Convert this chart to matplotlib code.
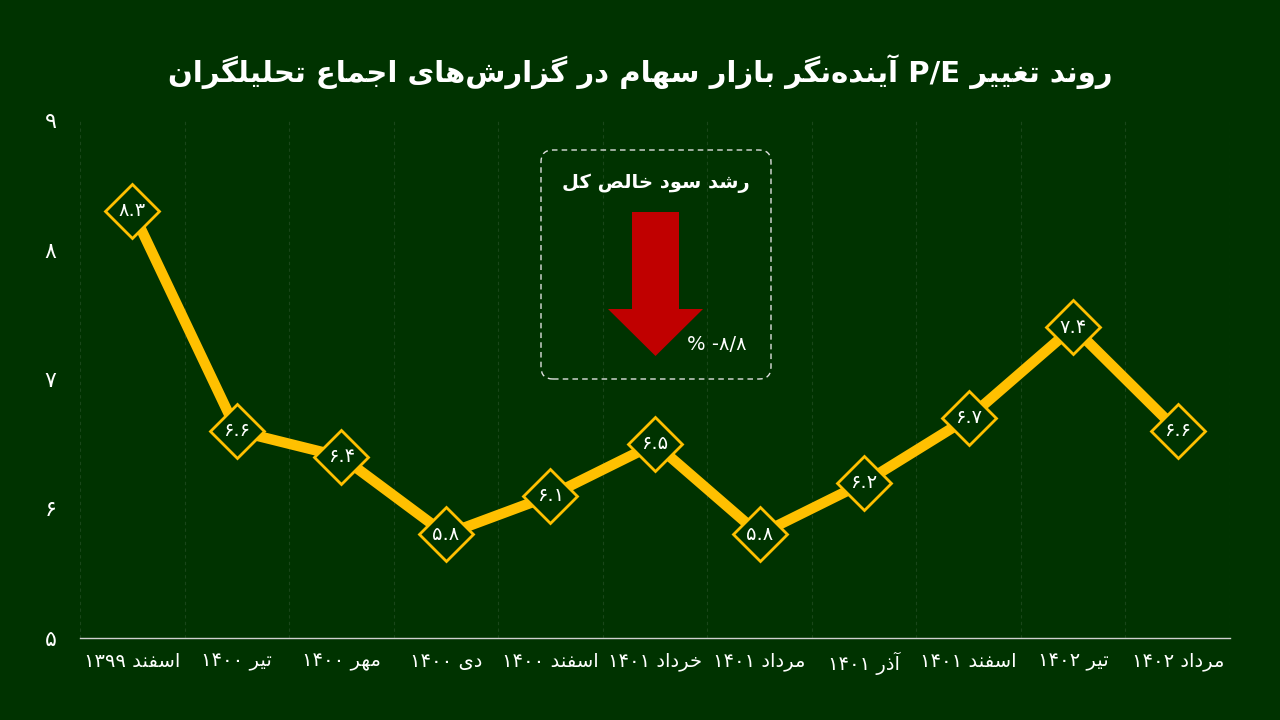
import re
import numpy as np
import matplotlib
matplotlib.use('Agg')
import matplotlib.pyplot as plt
from matplotlib.patches import FancyBboxPatch, Polygon
from matplotlib.transforms import IdentityTransform

# ---------------- data ----------------
categories = ['اسفند ۱۳۹۹', 'تیر ۱۴۰۰', 'مهر ۱۴۰۰', 'دی ۱۴۰۰', 'اسفند ۱۴۰۰',
              'خرداد ۱۴۰۱', 'مرداد ۱۴۰۱', 'آذر ۱۴۰۱', 'اسفند ۱۴۰۱', 'تیر ۱۴۰۲', 'مرداد ۱۴۰۲']
values = [8.3, 6.6, 6.4, 5.8, 6.1, 6.5, 5.8, 6.2, 6.7, 7.4, 6.6]
y_ticks = [5, 6, 7, 8, 9]
title = 'روند تغییر P/E آینده\u200cنگر بازار سهام در گزارش\u200cهای اجماع تحلیلگران'
box_title = 'رشد سود خالص کل'
box_value = '% -۸/۸'   # as displayed

# ---------------- minimal Persian shaping + RTL ordering ----------------
_dual = {'\u0628': 0xFE8F, '\u062A': 0xFE95, '\u062B': 0xFE99, '\u062C': 0xFE9D,
         '\u062D': 0xFEA1, '\u062E': 0xFEA5, '\u0633': 0xFEB1, '\u0634': 0xFEB5,
         '\u0635': 0xFEB9, '\u0636': 0xFEBD, '\u0637': 0xFEC1, '\u0638': 0xFEC5,
         '\u0639': 0xFEC9, '\u063A': 0xFECD, '\u0641': 0xFED1, '\u0642': 0xFED5,
         '\u0644': 0xFEDD, '\u0645': 0xFEE1, '\u0646': 0xFEE5, '\u0647': 0xFEE9,
         '\u067E': 0xFB56, '\u0686': 0xFB7A, '\u06A9': 0xFB8E, '\u06AF': 0xFB92,
         '\u06CC': 0xFBFC}
_right = {'\u0622': 0xFE81, '\u0627': 0xFE8D, '\u062F': 0xFEA9, '\u0630': 0xFEAB,
          '\u0631': 0xFEAD, '\u0632': 0xFEAF, '\u0698': 0xFB8A, '\u0648': 0xFEED}


def _is_letter(c):
    return c in _dual or c in _right


def shape(text):
    chars = list(text)
    out = []
    i = 0
    n = len(chars)
    while i < n:
        c = chars[i]
        if not _is_letter(c):
            if c != '\u200c':
                out.append(c)
            i += 1
            continue
        prev = chars[i - 1] if i > 0 else ''
        joins_prev = prev in _dual
        nxt = chars[i + 1] if i + 1 < n else ''
        if c == '\u0644' and nxt in ('\u0627', '\u0622'):
            base = 0xFEFB if nxt == '\u0627' else 0xFEF5
            out.append(chr(base + (1 if joins_prev else 0)))
            i += 2
            continue
        if c in _dual:
            b = _dual[c]
            joins_next = _is_letter(nxt)
            if joins_prev and joins_next:
                f = b + 3
            elif joins_prev:
                f = b + 1
            elif joins_next:
                f = b + 2
            else:
                f = b
        else:
            b = _right[c]
            f = b + 1 if joins_prev else b
        out.append(chr(f))
        i += 1
    return ''.join(out)


def visual(text):
    s = shape(text)
    tokens = re.findall(r'[A-Za-z0-9\u06F0-\u06F9./]+|.', s)
    return ''.join(reversed(tokens))


_fa = str.maketrans('0123456789', '۰۱۲۳۴۵۶۷۸۹')


def fa_num(v, fmt='{:.1f}'):
    return fmt.format(v).translate(_fa)


# ---------------- style ----------------
BG = '#003300'
YEL = '#FFC000'
plt.rcParams['font.family'] = ['DejaVu Sans']

fig = plt.figure(figsize=(12.8, 7.2), dpi=100, facecolor=BG)
ax = fig.add_axes([80 / 1280, 1 - 638 / 720, 1150 / 1280, 518 / 720])
ax.set_facecolor(BG)

x = np.arange(len(categories))
ax.plot(x, values, color=YEL, lw=7.5, zorder=3, solid_capstyle='butt')
ax.plot(x, values, ls='none', marker='D', ms=27, mfc=BG, mec=YEL, mew=2, zorder=4)
for xi, v in zip(x, values):
    ax.text(xi, v, fa_num(v), ha='center', va='center', color='white',
            fontsize=14, zorder=5)

for b in np.arange(-0.5, len(categories) + 0.5, 1.0):
    ax.axvline(b, color='#1a461a', lw=0.8, ls=(0, (3, 3)), zorder=1)

ax.set_xlim(-0.5, len(categories) - 0.5)
ax.set_ylim(min(y_ticks), max(y_ticks))
ax.set_xticks(x)
ax.set_xticklabels([visual(c) for c in categories])
ax.set_yticks(y_ticks)
ax.set_yticklabels([fa_num(t, '{:d}') for t in y_ticks])
ax.tick_params(axis='x', length=0, colors='white', labelsize=14, pad=10)
ax.tick_params(axis='y', length=0, colors='white', labelsize=16, pad=17)
for s in ('top', 'right', 'left'):
    ax.spines[s].set_visible(False)
ax.spines['bottom'].set_color('#d0d0d0')
ax.spines['bottom'].set_linewidth(1)

# title
fig.text(0.5, 1 - 72 / 720, visual(title), ha='center', va='center',
         fontsize=21, fontweight='bold', color='white')

# annotation box (pixel coordinates, origin bottom-left)
H = 720
box = FancyBboxPatch((541, H - 379), 230, 229,
                     boxstyle='round,pad=0,rounding_size=12',
                     transform=IdentityTransform(), facecolor='none',
                     edgecolor='#e0e0e0', lw=1, ls=(0, (4, 3)))
fig.add_artist(box)
arrow_pts = [(632, 212), (679, 212), (679, 309), (703, 309), (655.5, 356),
             (608, 309), (632, 309)]
arrow = Polygon([(px, H - py) for px, py in arrow_pts], closed=True,
                transform=IdentityTransform(), facecolor='#C00000', edgecolor='none')
fig.add_artist(arrow)
fig.text(656 / 1280, 1 - 183 / 720, visual(box_title), ha='center', va='center',
         fontsize=14, fontweight='bold', color='white')
fig.text(717 / 1280, 1 - 344 / 720, box_value, ha='center', va='center',
         fontsize=14, color='white')

fig.savefig('out.png', dpi=100, facecolor=BG)
